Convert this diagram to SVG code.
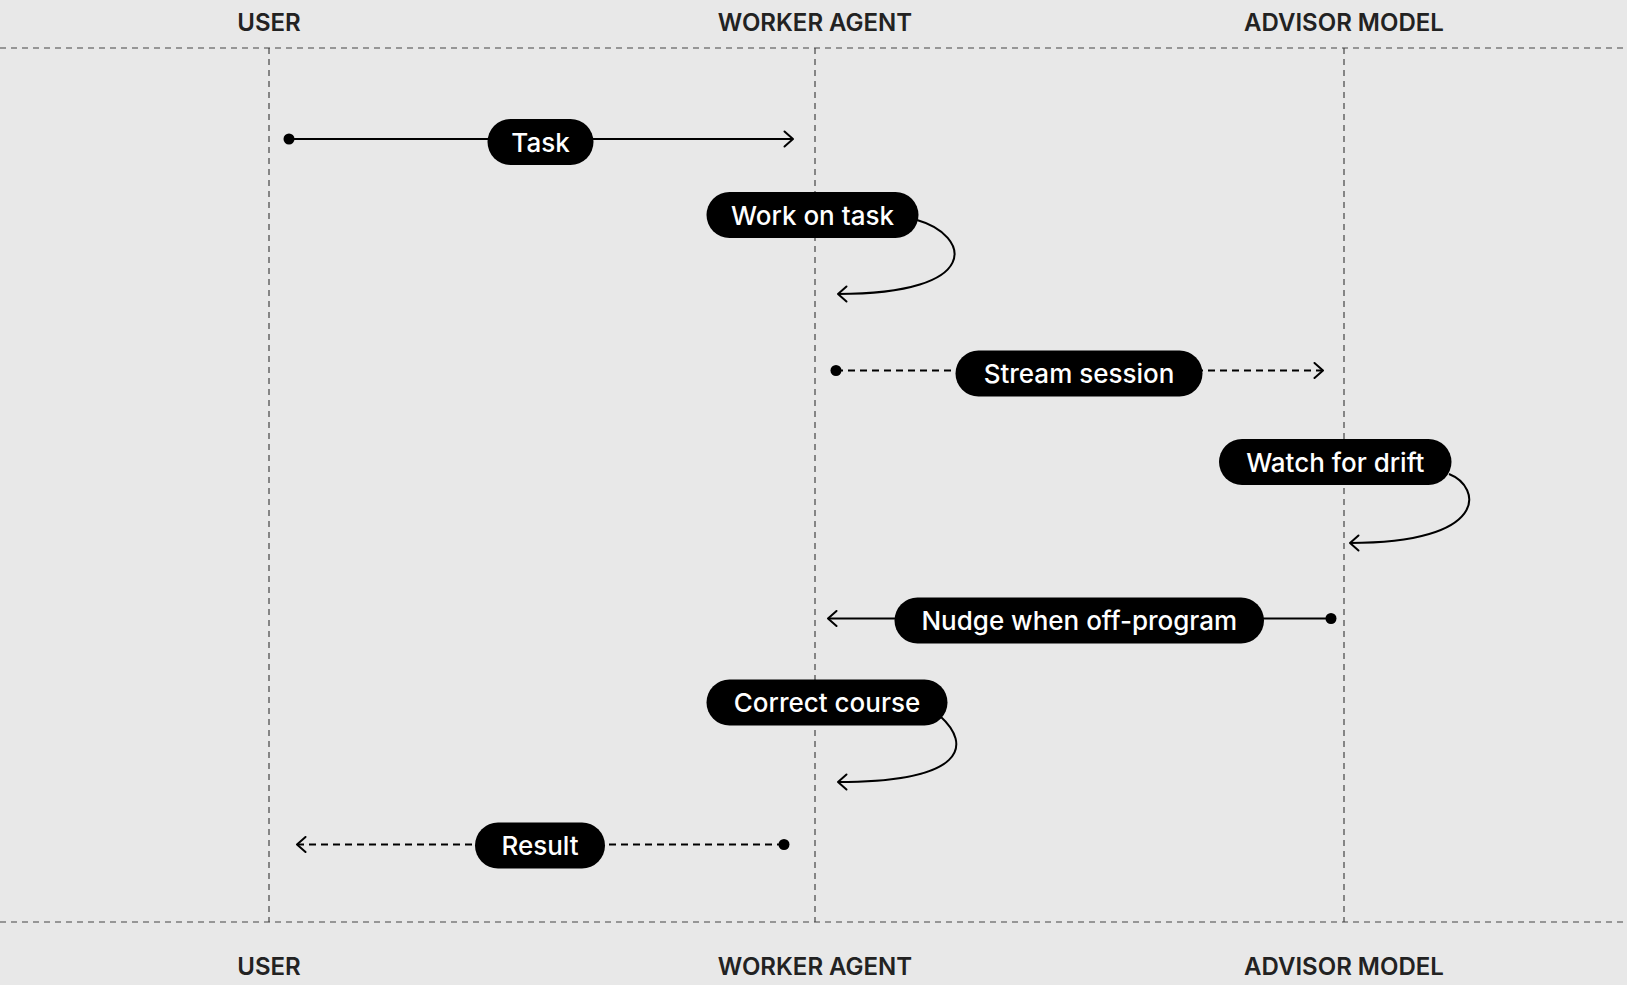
<svg xmlns="http://www.w3.org/2000/svg" width="1627" height="985" viewBox="0 0 1627 985">
  <style>
    .lane { font-family: Inter, "Liberation Sans", sans-serif; font-size: 24px; font-weight: 600; fill: #222; text-anchor: middle; }
    .grid { stroke: #444; stroke-width: 1.2; stroke-dasharray: 6 5; fill: none; }
    .pill { fill: #000; }
    .ptext { font-family: Inter, "Liberation Sans", sans-serif; font-size: 26px; font-weight: 500; fill: #fff; text-anchor: middle; }
    .conn { stroke: #000; stroke-width: 2; fill: none; }
    .dash { stroke-dasharray: 7 5; }
    .dot { fill: #000; }
  </style>
  <defs>
    <marker id="arrow" viewBox="0 0 12 18" refX="10" refY="9" markerWidth="12" markerHeight="18" markerUnits="userSpaceOnUse" orient="auto">
      <path d="M1.5 1.5 L10 9 L1.5 16.5" fill="none" stroke="#000" stroke-width="2" stroke-linecap="round" stroke-linejoin="round"/>
    </marker>
  </defs>
  <rect width="1627" height="985" fill="#e8e8e8"/>

  <g id="lanes">
    <text class="lane" x="269" y="31">USER</text>
    <text class="lane" x="815" y="31">WORKER AGENT</text>
    <text class="lane" x="1344" y="31">ADVISOR MODEL</text>
    <text class="lane" x="269" y="975">USER</text>
    <text class="lane" x="815" y="975">WORKER AGENT</text>
    <text class="lane" x="1344" y="975">ADVISOR MODEL</text>
    <line class="grid" x1="0" y1="48" x2="1627" y2="48"/>
    <line class="grid" x1="0" y1="922" x2="1627" y2="922"/>
    <line class="grid" x1="269" y1="48" x2="269" y2="922"/>
    <line class="grid" x1="815" y1="48" x2="815" y2="922"/>
    <line class="grid" x1="1344" y1="48" x2="1344" y2="922"/>
  </g>

  <g id="connectors">
    <line class="conn" x1="289" y1="139" x2="793" y2="139" marker-end="url(#arrow)"/>
    <circle class="dot" cx="289" cy="139" r="5.5"/>
    <path class="conn" d="M917 220 C 970 235, 985 294, 838 294" marker-end="url(#arrow)"/>
    <line class="conn dash" x1="836" y1="370.5" x2="1323" y2="370.5" marker-end="url(#arrow)"/>
    <circle class="dot" cx="836" cy="370.5" r="5.5"/>
    <path class="conn" d="M1449 474 C 1482 487, 1490 543, 1350 543" marker-end="url(#arrow)"/>
    <line class="conn" x1="1331" y1="618.5" x2="828" y2="618.5" marker-end="url(#arrow)"/>
    <circle class="dot" cx="1331" cy="618.5" r="5.5"/>
    <path class="conn" d="M940 716 C 972 745, 966 782, 838 782" marker-end="url(#arrow)"/>
    <line class="conn dash" x1="784" y1="844.5" x2="297" y2="844.5" marker-end="url(#arrow)"/>
    <circle class="dot" cx="784" cy="844.5" r="5.5"/>
  </g>

  <g id="task">
    <rect class="pill" x="487.5" y="119" width="106" height="46" rx="23"/>
    <text class="ptext" x="540.5" y="151.5">Task</text>
  </g>
  <g id="work-on-task">
    <rect class="pill" x="706.5" y="192" width="212" height="46" rx="23"/>
    <text class="ptext" x="812.5" y="224.5">Work on task</text>
  </g>
  <g id="stream-session">
    <rect class="pill" x="955.5" y="350.5" width="247" height="46" rx="23"/>
    <text class="ptext" x="1079" y="383">Stream session</text>
  </g>
  <g id="watch-for-drift">
    <rect class="pill" x="1219" y="439" width="232.5" height="46" rx="23"/>
    <text class="ptext" x="1335.3" y="471.5">Watch for drift</text>
  </g>
  <g id="nudge">
    <rect class="pill" x="894.5" y="597.5" width="369.5" height="46" rx="23"/>
    <text class="ptext" x="1079.3" y="630">Nudge when off-program</text>
  </g>
  <g id="correct-course">
    <rect class="pill" x="706.5" y="679.5" width="241" height="46" rx="23"/>
    <text class="ptext" x="827" y="712">Correct course</text>
  </g>
  <g id="result">
    <rect class="pill" x="475" y="822.5" width="130" height="46" rx="23"/>
    <text class="ptext" x="540" y="855">Result</text>
  </g>
</svg>
